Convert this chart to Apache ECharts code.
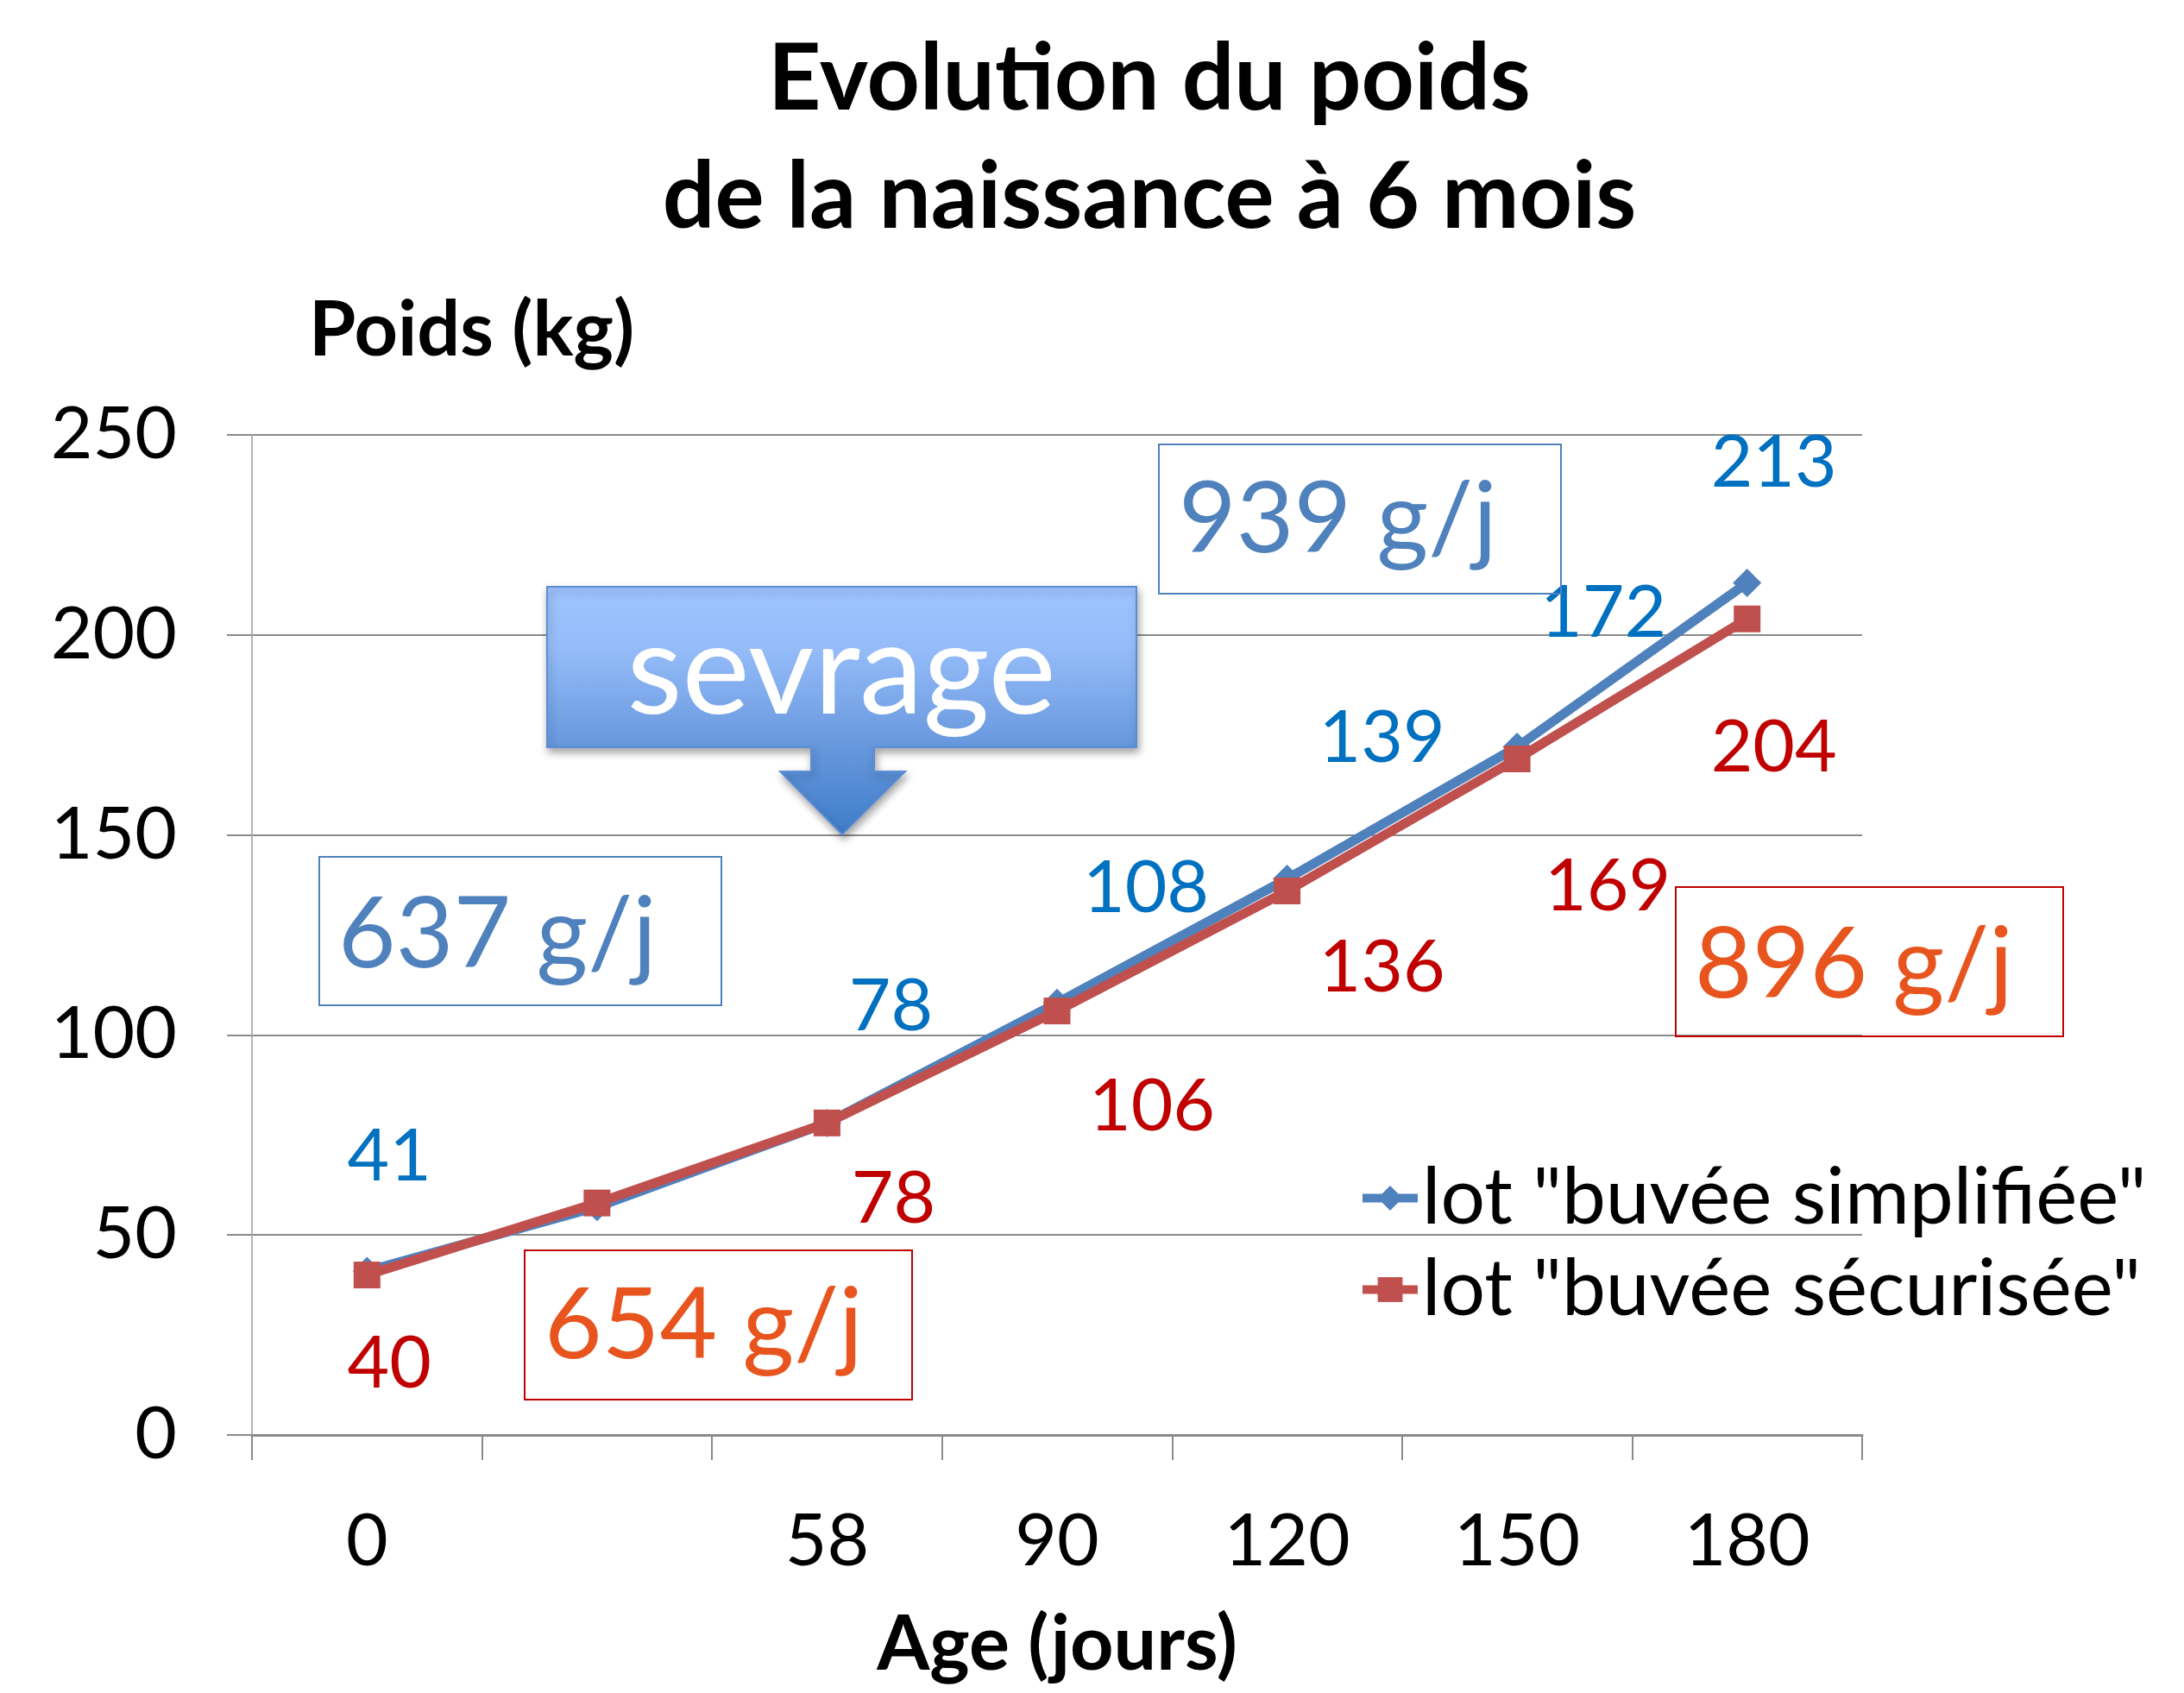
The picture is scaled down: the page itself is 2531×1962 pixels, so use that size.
<!DOCTYPE html>
<html>
<head>
<meta charset="utf-8">
<title>Evolution du poids</title>
<script src="https://cdn.jsdelivr.net/npm/echarts@6/dist/echarts.min.js"></script>
<style>
  html, body { margin: 0; padding: 0; background: #fff; }
  #chart { width: 2531px; height: 1962px; }
</style>
</head>
<body>
<div id="chart"></div>
<script>
// ages (jours) - the 2nd point has no tick label in the original
const ages = ['0', '', '58', '90', '120', '150', '180']
const simplifiee = [41, 57, 78, 108, 139, 172, 213]
const securisee = [40, 58, 78, 106, 136, 169, 204]
const yTicks = { min: 0, max: 250, step: 50 }

// where each value label sits relative to its point (null = no label)
const blueLabelOffsets = [[26, -132], null, [74, -134], [103, -132], [110, -163], [100, -155], [31, -139]]
const redLabelOffsets = [[26, 103], null, [77, 89], [110, 111], [110, 89], [105, 148], [31, 150]]

const FONT = 'Lato, "Noto Sans", sans-serif'

const buildData = (values, offsets) => {
    return values.map((v, i) => {
        if (!offsets[i]) {
            return { value: v, label: { show: false } }
        }
        return { value: v, label: { offset: offsets[i] } }
    })
}

// little boxes with the daily gain
const gainBox = (x, y, w, h, stroke, text, tx, ty, color) => {
    return [
        {
            type: 'rect',
            shape: { x: x, y: y, width: w, height: h },
            style: { fill: 'none', stroke: stroke, lineWidth: 2 },
            z: 10
        },
        {
            type: 'text',
            style: {
                text: text, x: tx, y: ty,
                font: '115px ' + FONT, fill: color,
                textAlign: 'left', textVerticalAlign: 'middle'
            },
            z: 11
        }
    ]
}

const chart = echarts.init(document.getElementById('chart'))

const option = {
    animation: false,
    backgroundColor: '#fff',
    textStyle: { fontFamily: FONT },
    grid: { left: 292, right: 373, top: 504, bottom: 299, containLabel: false },
    legend: {
        orient: 'vertical',
        left: 1569,
        top: 1338,
        itemWidth: 64,
        itemHeight: 36,
        itemGap: 15,
        itemTextGap: 5,
        lineStyle: { width: 10 },
        textStyle: { fontSize: 91, lineHeight: 90, color: '#000', fontFamily: FONT },
        data: ['lot "buvée simplifiée"', 'lot "buvée sécurisée"']
    },
    xAxis: {
        type: 'category',
        data: ages,
        boundaryGap: true,
        name: 'Age (jours)',
        nameLocation: 'middle',
        nameGap: 244,
        nameTextStyle: { fontSize: 88, fontWeight: 'bold', color: '#000', verticalAlign: 'middle', fontFamily: FONT },
        axisLine: { lineStyle: { color: '#8a8a8a', width: 3 } },
        axisTick: { show: true, length: 29, alignWithLabel: false, lineStyle: { color: '#8a8a8a', width: 2 } },
        axisLabel: { fontSize: 84, color: '#000', margin: 124, verticalAlign: 'middle', interval: 0, fontFamily: FONT },
        splitLine: { show: false }
    },
    yAxis: {
        type: 'value',
        min: yTicks.min,
        max: yTicks.max,
        interval: yTicks.step,
        name: 'Poids (kg)',
        nameLocation: 'end',
        nameGap: 120,
        nameTextStyle: {
            fontSize: 88, fontWeight: 'bold', color: '#000',
            align: 'left', verticalAlign: 'middle', padding: [0, 0, 0, 66], fontFamily: FONT
        },
        axisLine: { show: true, lineStyle: { color: '#b5b5b5', width: 2 } },
        axisTick: { show: true, length: 29, lineStyle: { color: '#8a8a8a', width: 2 } },
        axisLabel: { fontSize: 84, color: '#000', margin: 87, fontFamily: FONT },
        splitLine: { show: true, lineStyle: { color: '#8a8a8a', width: 2 } }
    },
    series: [
        {
            name: 'lot "buvée simplifiée"',
            type: 'line',
            data: buildData(simplifiee, blueLabelOffsets),
            symbol: 'diamond',
            symbolSize: 33,
            color: '#4F81BD',
            lineStyle: { width: 11, color: '#4F81BD' },
            itemStyle: { color: '#4F81BD' },
            label: { show: true, position: 'inside', fontSize: 84, color: '#0070C0', fontFamily: FONT },
            emphasis: { disabled: true },
            z: 3
        },
        {
            name: 'lot "buvée sécurisée"',
            type: 'line',
            data: buildData(securisee, redLabelOffsets),
            symbol: 'rect',
            symbolSize: 31,
            color: '#C0504D',
            lineStyle: { width: 11, color: '#C0504D' },
            itemStyle: { color: '#C0504D' },
            label: { show: true, position: 'inside', fontSize: 84, color: '#C00000', fontFamily: FONT },
            emphasis: { disabled: true },
            z: 4
        }
    ],
    graphic: [
        {
            type: 'text',
            style: {
                text: 'Evolution du poids', x: 1332, y: 92,
                font: 'bold 107px ' + FONT, fill: '#000',
                textAlign: 'center', textVerticalAlign: 'middle'
            }
        },
        {
            type: 'text',
            style: {
                text: 'de la naissance à 6 mois', x: 1332, y: 229,
                font: 'bold 107px ' + FONT, fill: '#000',
                textAlign: 'center', textVerticalAlign: 'middle'
            }
        },
        // sevrage callout with its arrow
        {
            type: 'polygon',
            shape: {
                points: [[634, 680], [1317, 680], [1317, 866], [1013, 866], [1013, 894], [1049, 894],
                    [976, 967], [904, 894], [940, 894], [940, 866], [634, 866]]
            },
            style: {
                fill: new echarts.graphic.LinearGradient(0, 0, 0, 1, [
                    { offset: 0, color: '#9FC4FF' },
                    { offset: 0.25, color: '#95BCF9' },
                    { offset: 0.65, color: '#6697DD' },
                    { offset: 1, color: '#3E7DC9' }
                ]),
                stroke: '#5B8ED6',
                lineWidth: 2,
                shadowBlur: 10,
                shadowOffsetX: 2,
                shadowOffsetY: 5,
                shadowColor: 'rgba(0,0,0,0.35)'
            },
            z: 12
        },
        {
            type: 'text',
            style: {
                text: 'sevrage', x: 975, y: 779,
                font: '148px ' + FONT, fill: '#fff',
                textAlign: 'center', textVerticalAlign: 'middle'
            },
            z: 13
        },
        ...gainBox(370, 993, 466, 172, '#4F81BD', '637 g/j', 392, 1084, '#4F81BD'),
        ...gainBox(608, 1449, 449, 173, '#C00000', '654 g/j', 631, 1537, '#E8541E'),
        ...gainBox(1343, 515, 466, 173, '#4F81BD', '939 g/j', 1366, 603, '#4F81BD'),
        ...gainBox(1942, 1028, 449, 173, '#C00000', '896 g/j', 1964, 1119, '#E8541E')
    ]
}

chart.setOption(option)
</script>
</body>
</html>
